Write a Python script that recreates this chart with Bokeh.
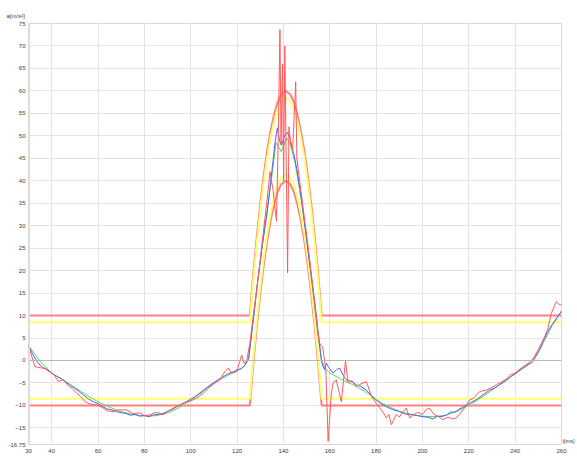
from bokeh.plotting import figure
from bokeh.models import Range1d, FixedTicker, Span, LinearAxis
from bokeh.embed import file_html
from bokeh.resources import INLINE

# ---- tick labels ----
x_ticks = [30, 40, 60, 80, 100, 120, 140, 160, 180, 200, 220, 240, 260]
y_ticks = [-18.7, -15, -10, -5, 0, 5, 10, 15, 20, 25, 30, 35, 40, 45, 50, 55, 60, 65, 70, 75]
y_bottom_label = "-16.75"
y_title = "a[m/s²]"
x_title = "t[ms]"

# ---- corridor ----
corr_t = [30, 125.5, 127, 128.5, 130, 131.5, 133, 134.5, 136, 137.5, 139, 141,
          143, 144.5, 146, 147.5, 149, 150.5, 152, 153.5, 155, 156.5, 260]
upper_red = [10, 10, 19.2, 27.5, 34.8, 41.2, 46.7, 51.2, 54.8, 57.5, 59.2, 60,
             59.2, 57.5, 54.8, 51.2, 46.7, 41.2, 34.8, 27.5, 19.2, 10, 10]
upper_yellow = [8.5, 8.5, 17.7, 26.0, 33.3, 39.7, 45.2, 49.7, 53.3, 56.0, 57.7, 58.5,
                57.7, 56.0, 53.3, 49.7, 45.2, 39.7, 33.3, 26.0, 17.7, 8.5, 8.5]
lower_yellow = [-8.5, -8.5, 0.7, 9.0, 16.3, 22.7, 28.2, 32.7, 36.3, 39.0, 40.7, 41.5,
                40.7, 39.0, 36.3, 32.7, 28.2, 22.7, 16.3, 9.0, 0.7, -8.5, -8.5]
lower_red = [-10, -10, -0.8, 7.5, 14.8, 21.2, 26.7, 31.2, 34.8, 37.5, 39.2, 40,
             39.2, 37.5, 34.8, 31.2, 26.7, 21.2, 14.8, 7.5, -0.8, -10, -10]

# ---- green (smooth) ----
green_t = [30, 35, 40, 45, 50, 55, 60, 65, 70, 75, 80, 85, 90, 95, 100, 105, 110, 115, 120, 123,
           125, 127, 129, 131, 133, 135, 136.8, 139, 141.5, 143, 145, 147, 149, 151, 153, 155, 156.5, 158, 160, 165,
           170, 175, 180, 185, 190, 195, 200, 205, 210, 215, 220, 225, 230, 235, 240, 245, 250, 253, 256, 260]
green_v = [3.3, -0.2, -2.8, -4.4, -6.0, -7.7, -9.2, -10.4, -11.4, -12.0, -12.4, -12.3, -11.7, -10.5, -8.9, -7.0, -5.0, -3.6, -2.3, -1.3,
           0.3, 9, 18, 26, 33.5, 41, 48.5, 46.5, 49.5, 48, 44, 38, 31, 23, 14, 5, 0, -1.8, -2.8, -4.2,
           -5.4, -6.8, -8.7, -10.2, -11.3, -12.0, -12.4, -12.5, -12.2, -11.3, -10.0, -8.4, -6.6, -4.7, -2.9, -1.2, 1.8, 4.8, 7.8, 11.0]

# ---- blue ----
blue_t = [30, 32, 34, 36, 38, 40, 42, 44, 46, 48, 50, 52, 54, 56, 58, 60, 62, 64, 66, 68, 70, 72, 74, 76, 78,
          80, 82, 84, 86, 88, 90, 92, 94, 96, 98, 100, 102, 104, 106, 108, 110, 112, 114, 116, 118, 120, 122,
          123.5, 125, 127, 129, 131, 133, 135, 136.5, 137.4, 138.3, 139.2, 140.5, 141.8, 143, 144.5, 146, 148,
          150, 152, 154, 155.5, 156.4, 157, 157.8, 158.5, 159.5, 161.4, 163, 164.3, 166, 167.2, 169, 171.5,
          173.5, 175.8, 178, 180.1, 182, 184.4, 187, 190.2, 193, 196, 198, 200, 202, 204.5, 206.5, 208, 210.3,
          212, 214, 216, 218.9, 221, 223, 226, 229, 231, 233.3, 236, 238.5, 240.5, 243, 245.5, 247.6, 250.5,
          252, 254, 256, 258, 260]
blue_v = [3.3, 1.2, -0.5, -1.5, -2.0, -2.8, -3.5, -4.0, -4.8, -5.5, -6.2, -7.0, -7.8, -8.6, -9.2, -9.6, -10.3,
          -10.8, -11.0, -11.4, -11.6, -11.8, -12.2, -12.0, -12.4, -12.2, -12.5, -12.1, -12.0, -11.8, -11.3, -10.9,
          -10.3, -9.7, -9.2, -8.6, -8.0, -7.2, -6.4, -5.6, -4.9, -4.2, -3.6, -3.0, -2.6, -2.1, -1.8,
          -1.0, 0.5, 9, 18, 26, 33, 42, 49, 51.8, 49, 47.9, 50, 50.8, 49, 46, 42, 35,
          27, 19, 11, 4, 0, -1.2, -2.1, -0.6, -1.5, -2.8, -2.0, -1.7, -3.5, -4.3, -4.6, -5.4,
          -5.8, -6.6, -7.8, -8.8, -9.6, -10.3, -10.9, -11.4, -12.0, -12.1, -12.3, -12.5, -12.6, -13.0, -12.4, -12.5, -12.2,
          -11.5, -11.5, -10.8, -10.0, -9.3, -8.8, -7.7, -6.6, -6.2, -5.4, -4.5, -3.5, -2.8, -1.8, -1.0, -0.3, 2.3,
          4.2, 6.4, 8.0, 9.5, 11.0]

# ---- red (noisy) ----
red_t = [30, 32.8, 35, 37, 39, 41, 42.9, 45, 47, 49, 50.8, 52.5, 54.4, 56.5, 59.4, 62, 64, 66.6, 69, 72.4,
         75, 78, 80, 82.4, 84.5, 86.7, 88, 90, 92.5, 95, 98.2, 100, 102.5, 105.4, 108, 110.5, 112.6, 114.7,
         116.2, 117.6, 119.8, 122, 123, 124.1, 125.5, 127, 129, 131, 133, 134.2, 135.5, 137, 137.8, 138.5,
         139, 139.6, 140.1, 140.6, 141.2, 141.8, 142.4, 143.2, 144, 145.3, 145.8, 147, 149, 151, 153, 154.5,
         155.5, 157, 158.3, 159.3, 160.7, 161.5, 162.8, 164, 165, 166.8, 167.9, 169.5, 171.5, 173.5, 175.8,
         178, 180, 181.5, 183, 184.4, 185.5, 186.6, 188.7, 190, 191.5, 193, 194.5, 196, 198, 200, 201.5, 203,
         205, 207, 208.8, 211, 213, 214.6, 217.5, 219, 220.3, 222, 224.7, 227.5, 230, 231.9, 234, 236, 238,
         240, 243, 246, 248, 250, 252, 254, 255.6, 256.5, 257.7, 259, 260]
red_v = [3.3, -1.4, -1.6, -1.8, -2.5, -3.2, -4.7, -4.2, -5.6, -6.3, -7.3, -8.0, -9.2, -9.7, -9.9, -10.5, -11.2,
         -11.4, -11.0, -11.0, -11.8, -11.7, -12.3, -12.1, -11.6, -11.7, -12.1, -11.4, -10.6, -10.0, -9.2, -9.0,
         -8.4, -7.3, -6.0, -5.0, -4.3, -2.5, -1.7, -2.8, -2.5, 1.2, -0.6, -0.3, 3.8, 10, 18, 27, 36, 42, 38,
         31, 50, 73.6, 48, 66, 40, 70, 45, 19.5, 52, 48, 47, 62, 45, 40, 32, 24, 15, 8, 4, 2.8, -2, -18, -7.2,
         -5, -4.3, -7, -9.2, 0, -5, -4.5, -5.8, -5.2, -4.7, -8, -9.5, -10.5, -11.5, -12.8, -12, -14.3, -12,
         -12.6, -11.5, -10.6, -12.8, -12.2, -11.5, -12, -11, -10.6, -12, -12.5, -13.2, -12.6, -13, -12.8, -11,
         -10, -8.8, -8.4, -6.9, -6.6, -6.0, -5.4, -4.8, -4.2, -3.2, -2.8, -1.5, -0.5, 0.5, 2.5, 4.5, 6.8, 10.5,
         11.5, 13.1, 12.5, 12.3]

p = figure(width=577, height=459, output_backend="svg", toolbar_location=None,
           x_range=Range1d(30, 260), y_range=Range1d(-18.7, 75),
           min_border_left=28, min_border_right=15, min_border_top=23, min_border_bottom=15,
           title=y_title)
p.title.align = "left"
p.title.offset = -22
p.title.standoff = 9
p.title.text_font = "Liberation Sans"
p.title.text_font_size = "6px"
p.title.text_font_style = "normal"
p.title.text_color = "#404040"

p.background_fill_color = "white"
p.border_fill_color = "white"
p.outline_line_color = "#d8d8d8"
p.outline_line_width = 1

# right-side axis carrying only the x-axis title next to the bottom-right corner
x_title_pos = -18.0
r_axis = LinearAxis(ticker=FixedTicker(ticks=[x_title_pos]))
r_axis.major_label_overrides = {x_title_pos: x_title}
p.add_layout(r_axis, "right")

p.xaxis.ticker = FixedTicker(ticks=x_ticks)
p.yaxis[0].ticker = FixedTicker(ticks=y_ticks)
p.yaxis[0].major_label_overrides = {-18.7: y_bottom_label}
for ax in (p.xaxis[0], p.yaxis[0], r_axis):
    ax.axis_line_color = None
    ax.major_tick_line_color = None
    ax.minor_tick_line_color = None
    ax.major_tick_out = 0
    ax.major_tick_in = 0
    ax.minor_tick_out = 0
    ax.minor_tick_in = 0
    ax.major_label_text_font = "Liberation Sans"
    ax.major_label_text_font_size = "6px"
    ax.major_label_text_color = "#404040"
p.xaxis.major_label_standoff = 4
p.yaxis[0].major_label_standoff = 3
r_axis.major_label_standoff = 1
r_axis.major_label_text_font_size = "5.5px"
p.xgrid.grid_line_color = "#e4e4e4"
p.ygrid.grid_line_color = "#e4e4e4"
p.xgrid.grid_line_width = 1
p.ygrid.grid_line_width = 1

p.add_layout(Span(location=0, dimension="width", line_color="#b4b4b4", line_width=1))
p.add_layout(Span(location=30, dimension="height", line_color="#dedede", line_width=3))

p.line(corr_t, upper_red, line_color="#ff8080", line_width=2)
p.line(corr_t, lower_red, line_color="#ff8080", line_width=2)
p.line(corr_t, upper_yellow, line_color="#ffff70", line_width=2)
p.line(corr_t, lower_yellow, line_color="#ffff70", line_width=2)

p.line(green_t, green_v, line_color="#50dc50", line_width=1)
p.line(blue_t, blue_v, line_color="#5a5aff", line_width=1)
p.line(red_t, red_v, line_color="#ff5a5a", line_width=1)

open("out.html", "w").write(file_html(p, INLINE))
